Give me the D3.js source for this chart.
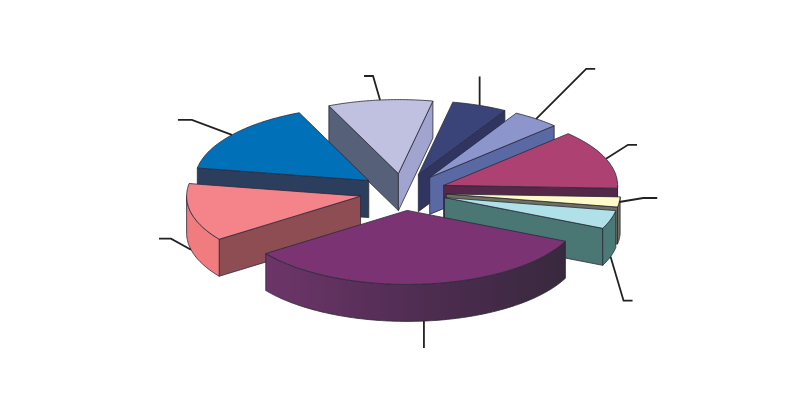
<!DOCTYPE html>
<html>
<head>
<meta charset="utf-8">
<script src="https://cdn.jsdelivr.net/npm/d3@7"></script>
<style>
	html, body { margin: 0; padding: 0; background: #fff; }
	svg { display: block; }
</style>
</head>
<body>
<div id="chart"></div>
<script>
// the labels are blank in the picture, so the categories only name the wedges by colour
var categories = ["purple", "pink", "blue", "lavender", "navy", "periwinkle", "crimson", "cream", "cyan"];
var seriesValues = [33.2, 12.6, 15.7, 9.7, 5.1, 4.4, 12.9, 2.2, 4.0];

// colours by category
var topColors = ["#7b3374", "#f4838a", "#0070b8", "#c0c0e0", "#3a4478", "#8c96cc", "#ad4172", "#fffbc8", "#b0e0e8"];
var startWallColors = ["#3a2a40", "#8d4d52", "#2c3e5e", "#566078", "#2f3560", "#5a68a4", "#55284a", "#6e7060", "#4a7674"];
var endWallColors = ["#3a2a40", "#8d4d52", "#2c3e5e", "#a0a4cf", "#2f3560", "#5a68a4", "#55284a", "#6e7060", "#4a7674"];
var outerColors = ["url(#purpleSide)", "#f07c80", "#2c3e5e", "#566078", "#2f3560", "#5a68a4", "#55284a", "#6e7060", "#4a7a78"];

// elbow of the leader lines, relative to where they leave the wedge
var leaderElbows = [[0, 27], [-20, -11], [-40, -15], [-7, -24], [0, -29], [50, -50], [22, -14], [24, -4], [13, 44]];
var leaderTails = [0, -12, -14, -9, 0, 9, 9, 14, 9];

var width = 812, height = 420;
var cx = 403, cy = 192, rx = 174, ry = 74, depth = 37, explode = 0.25;
var DEG = Math.PI / 180;

var x = d3.scaleLinear().domain([-1, 1]).range([cx - rx, cx + rx]);
var y = d3.scaleLinear().domain([-1, 1]).range([cy - ry, cy + ry]);

var svg = d3.select("#chart").append("svg").attr("width", width).attr("height", height);

var grad = svg.append("defs").append("linearGradient").attr("id", "purpleSide");
grad.append("stop").attr("offset", "0%").attr("stop-color", "#6d3569");
grad.append("stop").attr("offset", "55%").attr("stop-color", "#4d2c50");
grad.append("stop").attr("offset", "100%").attr("stop-color", "#38293e");

var pie = d3.pie().sort(null).startAngle(114.6 * DEG).endAngle((114.6 + 360) * DEG);
var slices = pie(seriesValues).map(function(d, i) {
	d.i = i;
	d.mid = (d.startAngle + d.endAngle) / 2;
	d.ox = explode * Math.sin(d.mid);
	d.oy = -explode * Math.cos(d.mid);
	return d;
});

// point of a wedge: r is the radius in units of the pie, h the drop below the top face
function pt(d, t, r, h) {
	return [x(d.ox + r * Math.sin(t)), y(d.oy - r * Math.cos(t)) + h];
}

var line = d3.line();

function rim(d, a, b, h) {
	var n = Math.max(2, Math.ceil((b - a) / DEG));
	return d3.range(n + 1).map(function(k) {
		return pt(d, a + (b - a) * k / n, 1, h);
	});
}

function face(g, points, color) {
	g.append("path")
		.attr("d", line(points) + "Z")
		.attr("fill", color)
		.attr("stroke", "#2a2a38")
		.attr("stroke-width", 0.8)
		.attr("stroke-linejoin", "round");
}

// back wedges first
var order = slices.slice().sort(function(p, q) { return d3.ascending(-Math.cos(p.mid), -Math.cos(q.mid)); });

order.forEach(function(d) {
	var g = svg.append("g").attr("class", "wedge " + categories[d.i]);
	var c = d.startAngle, e = d.endAngle;

	// a cut wall shows only when it turns towards the viewer
	if (Math.sin(c) < 0) {
		face(g, [pt(d, c, 0, 0), pt(d, c, 1, 0), pt(d, c, 1, depth), pt(d, c, 0, depth)], startWallColors[d.i]);
	}
	if (Math.sin(e) > 0) {
		face(g, [pt(d, e, 0, 0), pt(d, e, 1, 0), pt(d, e, 1, depth), pt(d, e, 0, depth)], endWallColors[d.i]);
	}

	// outer wall, front half of the circle only
	[0, 360].forEach(function(turn) {
		var a = Math.max(c, (90 + turn) * DEG), b = Math.min(e, (270 + turn) * DEG);
		if (b > a) {
			face(g, rim(d, a, b, 0).concat(rim(d, a, b, depth).reverse()), outerColors[d.i]);
		}
	});

	face(g, [pt(d, c, 0, 0)].concat(rim(d, c, e, 0)), topColors[d.i]);
});

// leader lines
slices.forEach(function(d) {
	var drop = Math.cos(d.mid) < -0.2 ? depth : 0;
	var p0 = pt(d, d.mid, 1, drop);
	var p1 = [p0[0] + leaderElbows[d.i][0], p0[1] + leaderElbows[d.i][1]];
	var p2 = [p1[0] + leaderTails[d.i], p1[1]];
	svg.append("path")
		.attr("class", "leader")
		.attr("d", line([p0, p1, p2]))
		.attr("fill", "none")
		.attr("stroke", "#222")
		.attr("stroke-width", 1.8);
});
</script>
</body>
</html>
